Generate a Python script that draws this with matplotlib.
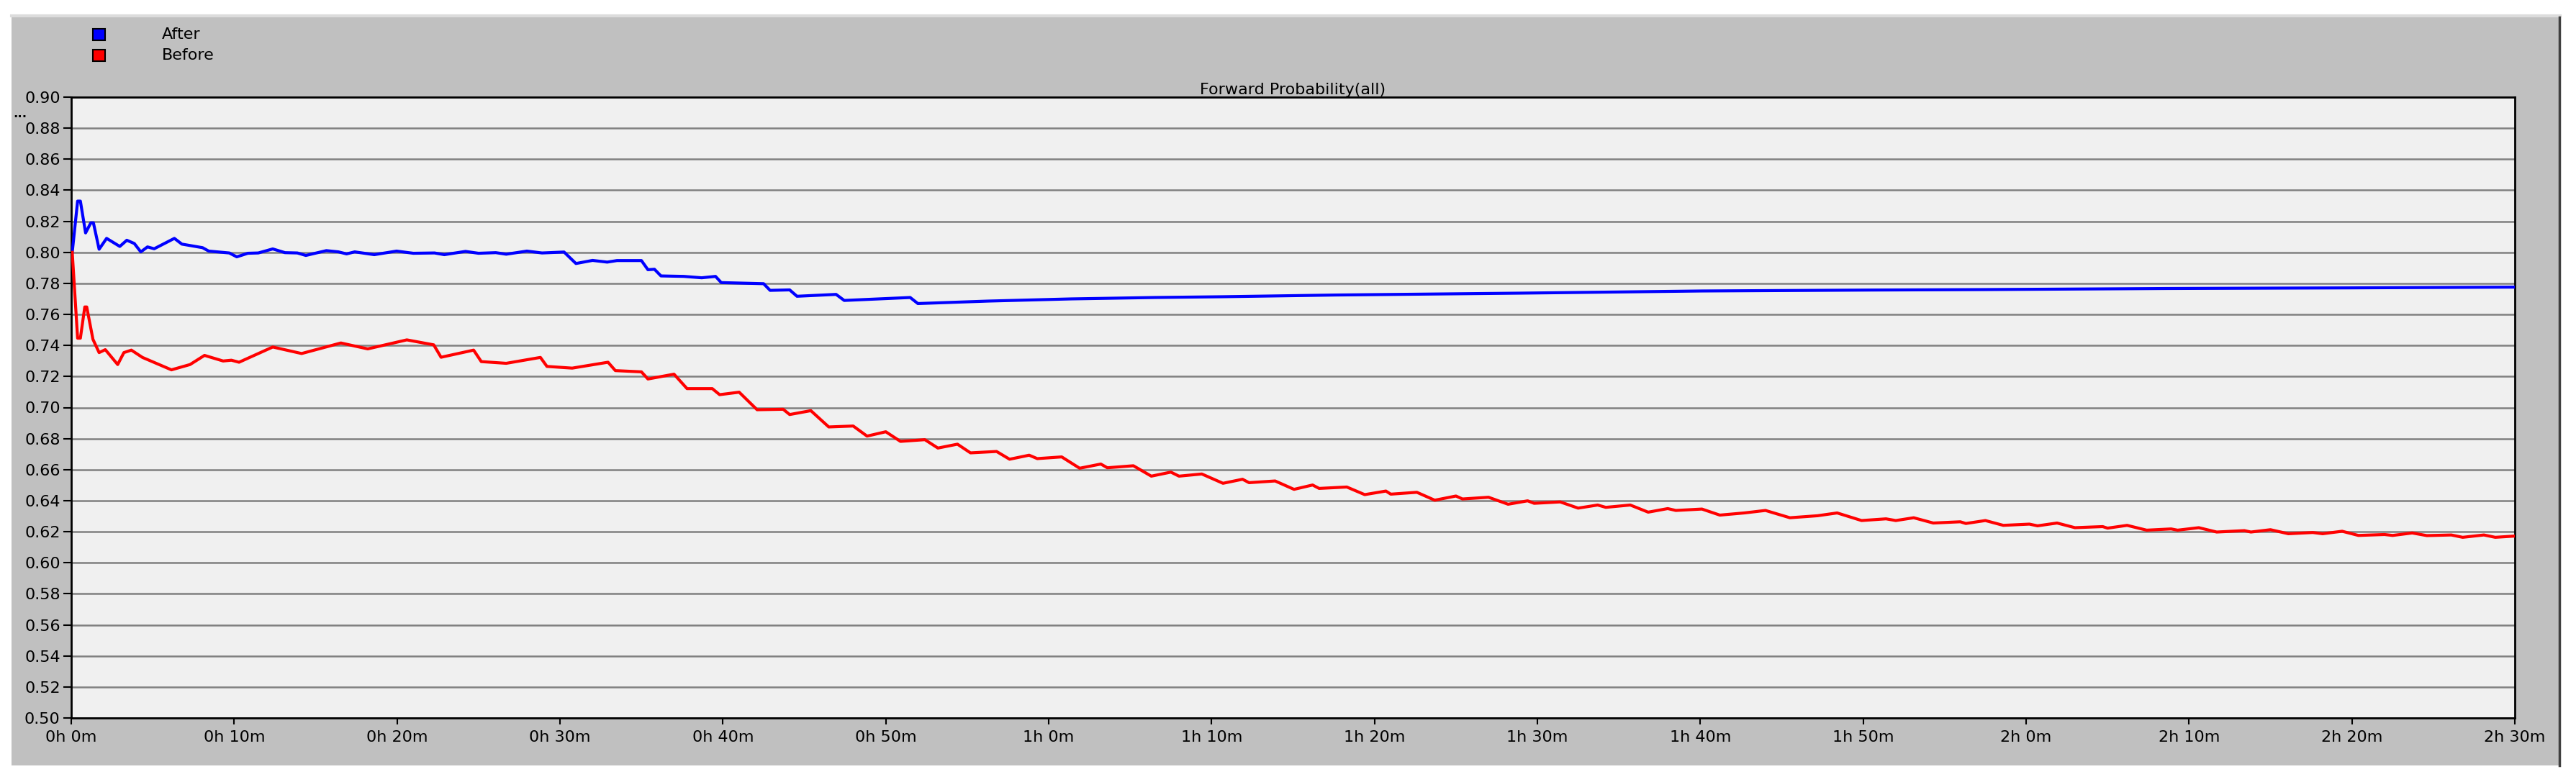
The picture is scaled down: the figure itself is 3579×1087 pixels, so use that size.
import matplotlib.pyplot as plt
from matplotlib.patches import Rectangle
from matplotlib.lines import Line2D

# time in minutes
after_t = [0.06, 0.39, 0.56, 0.88, 1.2, 1.36, 1.71, 2.17, 2.98, 3.41, 3.87, 4.27, 4.68, 5.09,
           6.33, 6.79, 8.06, 8.44, 9.7, 10.16, 10.84, 11.48, 12.37, 13.12, 13.88, 14.4,
           15.66, 16.4, 16.9, 17.4, 18.6, 19.97, 21.0, 22.3, 22.9, 24.2, 25.0, 26.06,
           26.7, 27.97, 28.9, 30.25, 30.98, 32.0, 32.9, 33.5, 35.0, 35.4, 35.8, 36.2,
           37.6, 38.7, 39.55, 39.9, 42.5, 42.9, 44.1, 44.55, 46.95, 47.45, 51.5, 51.97,
           56.3, 61.4, 66.5, 70.7, 77.6, 88.9, 100.1, 110.5, 117.4, 128.6, 139.9, 150.0]
after_v = [0.800, 0.833, 0.833, 0.8125, 0.819, 0.819, 0.802, 0.809, 0.8038, 0.8078, 0.8057,
           0.8003, 0.8035, 0.8023, 0.809, 0.8053, 0.803, 0.8008, 0.7996, 0.7971, 0.7994,
           0.7996, 0.8022, 0.7998, 0.7996, 0.798, 0.8011, 0.8003, 0.799, 0.8003, 0.7985,
           0.8008, 0.7994, 0.7996, 0.7985, 0.8006, 0.7994, 0.7998, 0.7988, 0.8008, 0.7996,
           0.8002, 0.7928, 0.7948, 0.7937, 0.7947, 0.7947, 0.7888, 0.7891, 0.7848, 0.7845,
           0.7836, 0.7845, 0.7805, 0.7798, 0.7755, 0.7758, 0.7717, 0.7729, 0.769, 0.7709,
           0.767, 0.7686, 0.770, 0.7709, 0.7714, 0.7725, 0.7737, 0.7751, 0.7757, 0.7760,
           0.7767, 0.7771, 0.7776]

before_t = [0.06, 0.39, 0.56, 0.83, 0.95, 1.33, 1.71, 2.09, 2.85, 3.23, 3.69, 4.37, 6.15,
            7.29, 8.18, 9.32, 9.83, 10.3, 12.37, 14.14, 16.55, 18.2, 20.6, 22.25, 22.7,
            24.7, 25.17, 26.7, 28.8, 29.2, 30.75, 32.95, 33.4, 35.0, 35.4, 37.0, 37.8,
            39.35, 39.8, 41.0, 42.1, 43.7, 44.1, 45.4, 46.5, 48.0, 48.85, 50.0, 50.9, 52.4,
            53.2, 54.4, 55.2, 56.8, 57.6, 58.8, 59.3, 60.8, 61.9, 63.2, 63.6, 65.2, 66.3,
            67.5, 68.0, 69.4, 70.7, 71.9, 72.3, 73.9, 75.06, 76.2, 76.6, 78.3, 79.4, 80.7,
            81.0, 82.6, 83.7, 85.0, 85.4, 87.0, 88.2, 89.4, 89.8, 91.4, 92.5, 93.7, 94.2,
            95.7, 96.8, 98.0, 98.5, 100.1, 101.2, 102.7, 104.0, 105.5, 107.2, 108.4, 109.9,
            111.4, 112.0, 113.1, 114.3, 115.96, 116.3, 117.5, 118.6, 120.2, 120.7, 121.9,
            123.0, 124.7, 125.0, 126.2, 127.4, 128.9, 129.3, 130.6, 131.7, 133.4, 133.8,
            135.0, 136.1, 137.6, 138.2, 139.4, 140.4, 142.0, 142.5, 143.7, 144.6, 146.1,
            146.8, 148.1, 148.8, 150.0]
before_v = [0.800, 0.7447, 0.7447, 0.7648, 0.7648, 0.744, 0.7354, 0.7373, 0.7277, 0.7354,
            0.737, 0.7323, 0.7243, 0.7277, 0.7336, 0.730, 0.7305, 0.7292, 0.739, 0.7348,
            0.7416, 0.7378, 0.7436, 0.7404, 0.7324, 0.737, 0.7296, 0.7285, 0.7323, 0.7265,
            0.7254, 0.7292, 0.7238, 0.723, 0.7184, 0.7215, 0.7122, 0.7122, 0.7083, 0.7099,
            0.6986, 0.6989, 0.6955, 0.698, 0.6875, 0.6881, 0.6816, 0.6844, 0.6782, 0.6793,
            0.6739, 0.6764, 0.6708, 0.6717, 0.6667, 0.6693, 0.6671, 0.6682, 0.6609, 0.6636,
            0.6612, 0.6625, 0.6558, 0.6584, 0.6558, 0.6572, 0.6512, 0.6538, 0.6516, 0.6527,
            0.6473, 0.6501, 0.6479, 0.6488, 0.6439, 0.6462, 0.6442, 0.6454, 0.6403, 0.643,
            0.6411, 0.6422, 0.6377, 0.6399, 0.6383, 0.6392, 0.6352, 0.6372, 0.6357, 0.6372,
            0.6326, 0.6349, 0.6337, 0.6346, 0.6307, 0.6321, 0.6337, 0.629, 0.6303, 0.6321,
            0.6272, 0.6283, 0.6272, 0.629, 0.6256, 0.6264, 0.6253, 0.6272, 0.6241, 0.6249,
            0.6238, 0.6256, 0.6226, 0.6233, 0.6223, 0.6241, 0.621, 0.6218, 0.621, 0.6226,
            0.6198, 0.6207, 0.6198, 0.6213, 0.6187, 0.6195, 0.6187, 0.6203, 0.6176, 0.6182,
            0.6176, 0.6192, 0.6175, 0.6179, 0.6164, 0.6179, 0.6164, 0.6172]

x_ticks = list(range(0, 151, 10))
x_labels = ['%dh %dm' % (m // 60, m % 60) for m in x_ticks]
y_ticks = [round(0.50 + 0.02 * i, 2) for i in range(21)]

series_names = ['After', 'Before']
series_colors = ['#0000ff', '#ff0000']

W, H = 3579, 1087
fig = plt.figure(figsize=(W / 100, H / 100), dpi=100)
fig.patch.set_facecolor('white')
plt.rcParams['font.family'] = ['DejaVu Sans']
fs = 16

# grey panel behind everything
fig.patches.append(Rectangle((16 / W, 1 - 1064 / H), (3557 - 16) / W, (1064 - 20) / H,
                             transform=fig.transFigure, facecolor='#c0c0c0',
                             edgecolor='none', zorder=-10))
fig.add_artist(Line2D([16 / W, 3557 / W], [1 - 22 / H, 1 - 22 / H], color='#dcdcdc', lw=3))
fig.add_artist(Line2D([3556 / W, 3556 / W], [1 - 24 / H, 1 - 1064 / H], color='#404040', lw=2.5))

ax = fig.add_axes([99 / W, 1 - 998 / H, (3494 - 99) / W, (998 - 135) / H])
ax.set_facecolor('#f0f0f0')

ax.plot(after_t, after_v, color=series_colors[0], lw=3.0, zorder=3)
ax.plot(before_t, before_v, color=series_colors[1], lw=3.0, zorder=3)

ax.set_xlim(0, 150)
ax.set_ylim(0.50, 0.90)
ax.set_xticks(x_ticks)
ax.set_xticklabels(x_labels)
ax.set_yticks(y_ticks)
ax.set_yticklabels(['%.2f' % v for v in y_ticks])
ax.yaxis.grid(True, color='#808080', lw=1.8)
ax.set_axisbelow(True)
for s in ax.spines.values():
    s.set_color('black')
    s.set_linewidth(2)
ax.tick_params(axis='y', direction='out', length=8, width=1.5, pad=3, labelsize=fs)
ax.tick_params(axis='x', direction='out', length=6.5, width=1.5, pad=6, labelsize=fs)

ax.set_title('Forward Probability(all)', fontsize=fs, pad=3)

# legend drawn like the original tool
for i, (name, col) in enumerate(zip(series_names, series_colors)):
    yc = 48 + 29 * i
    fig.patches.append(Rectangle((129 / W, 1 - (yc + 8) / H), 17 / W, 16 / H,
                                 transform=fig.transFigure, facecolor=col,
                                 edgecolor='black', lw=1.5))
    fig.text(225 / W, 1 - yc / H, name, fontsize=fs, va='center', ha='left')

fig.text(18 / W, 1 - 158 / H, '...', fontsize=12, fontweight='bold', va='center', ha='left')

plt.savefig('out.png', dpi=100)
